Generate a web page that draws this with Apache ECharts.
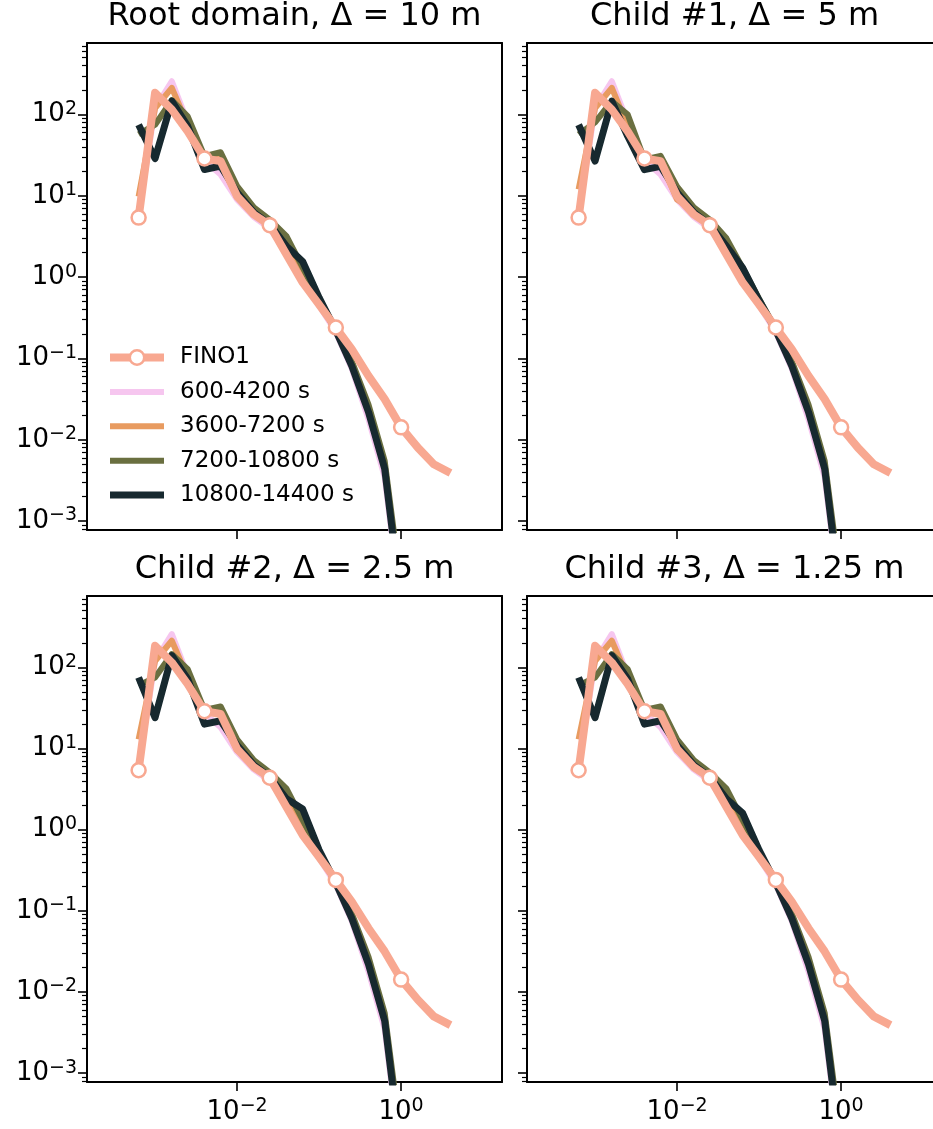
<!DOCTYPE html>
<html>
<head>
<meta charset="utf-8">
<script src="https://cdn.jsdelivr.net/npm/echarts@6.0.0/dist/echarts.min.js"></script>
</head>
<body style="margin:0;background:#fff">
<div id="container" style="width:933px;height:1129px"></div>
<script>
// frequency bins (shared by all curves)
var freq = [6.3e-4, 1.0e-3, 1.6e-3, 2.5e-3, 4.0e-3, 6.3e-3, 1.0e-2, 1.6e-2, 2.5e-2, 4.0e-2,
            6.3e-2, 0.10, 0.16, 0.25, 0.40, 0.63, 1.0, 1.6, 2.5, 4.0];

// observations, same in every panel
var fino1 = [5.4, 185, 115, 62, 28.8, 26.7, 9.9, 5.9, 4.36, 1.9,
             0.86, 0.46, 0.24, 0.13, 0.061, 0.0316, 0.0142, 0.0080, 0.0050, 0.0039];

// Root domain
var root600   = [6.0, 120, 257, 80, 27, 18.3, 9.0, 5.5, 4.0, 2.0, 0.90, 0.45, 0.21, 0.075, 0.018, 0.0035, 8e-5];
var root3600  = [9.8, 120, 213, 75, 30.8, 28, 9.5, 6.8, 4.7, 2.6, 1.2, 0.50, 0.22, 0.085, 0.024, 0.0048, 1.2e-4];
var root7200  = [57, 75, 150, 95, 30.8, 34.4, 13.2, 7.2, 5.1, 3.2, 1.32, 0.54, 0.23, 0.093, 0.027, 0.0055, 1.5e-4];
var root10800 = [75, 28.8, 146, 72, 21.1, 23.2, 11, 6.25, 4.46, 2.4, 1.56, 0.56, 0.22, 0.081, 0.0219, 0.0044, 1e-4];

// Child #1
var c1_600   = [6.0, 120, 257, 80, 27, 18.3, 9.0, 5.5, 4.0, 2.0, 0.90, 0.45, 0.21, 0.075, 0.018, 0.0035, 8e-5];
var c1_3600  = [12, 120, 213, 72, 29, 27, 9.0, 6.6, 4.6, 2.6, 1.2, 0.50, 0.22, 0.085, 0.024, 0.0048, 1.2e-4];
var c1_7200  = [57, 80, 146, 100, 28, 31, 13, 7.2, 5.1, 3.0, 1.3, 0.54, 0.23, 0.093, 0.027, 0.0055, 1.5e-4];
var c1_10800 = [75, 26.7, 146, 54, 21, 23, 11, 6.25, 4.4, 2.4, 1.3, 0.52, 0.22, 0.081, 0.0219, 0.0044, 1e-4];

// Child #2
var c2_600   = [6.0, 120, 257, 80, 27, 18.3, 9.0, 5.5, 4.0, 2.0, 0.90, 0.45, 0.21, 0.075, 0.018, 0.0035, 8e-5];
var c2_3600  = [13, 120, 213, 75, 30, 28, 9.5, 6.8, 4.7, 2.6, 1.2, 0.50, 0.22, 0.085, 0.024, 0.0048, 1.2e-4];
var c2_7200  = [60, 75, 146, 95, 30, 33, 13, 7.2, 5.1, 3.2, 1.32, 0.54, 0.23, 0.093, 0.027, 0.0055, 1.5e-4];
var c2_10800 = [75, 24, 140, 72, 20, 22, 11, 6.25, 4.46, 2.4, 1.8, 0.56, 0.22, 0.081, 0.0219, 0.0044, 1e-4];

// Child #3
var c3_600   = [6.0, 120, 257, 80, 27, 18.3, 9.0, 5.5, 4.0, 2.0, 0.90, 0.45, 0.21, 0.075, 0.018, 0.0035, 8e-5];
var c3_3600  = [13, 120, 213, 75, 30, 28, 9.5, 6.8, 4.7, 2.6, 1.2, 0.50, 0.22, 0.085, 0.024, 0.0048, 1.2e-4];
var c3_7200  = [60, 75, 146, 95, 30, 33, 13, 7.2, 5.1, 3.2, 1.32, 0.54, 0.23, 0.093, 0.027, 0.0055, 1.5e-4];
var c3_10800 = [75, 24, 140, 72, 20, 22, 11, 6.25, 4.46, 2.4, 1.6, 0.56, 0.22, 0.081, 0.0219, 0.0044, 1e-4];

var panelTitles = ['Root domain, \u0394 = 10 m', 'Child #1, \u0394 = 5 m',
                   'Child #2, \u0394 = 2.5 m', 'Child #3, \u0394 = 1.25 m'];
var panelData = [
  [root600, root3600, root7200, root10800],
  [c1_600, c1_3600, c1_7200, c1_10800],
  [c2_600, c2_3600, c2_7200, c2_10800],
  [c3_600, c3_3600, c3_7200, c3_10800]
];
var lesNames = ['600-4200 s', '3600-7200 s', '7200-10800 s', '10800-14400 s'];
var lesColors = ['#f6c6ef', '#e89b60', '#6a6f40', '#17292f'];
var lesWidths = [6, 6, 6, 7];
var finoName = 'FINO1';
var finoColor = '#f8a891';

// axes (exponents of ten)
var xMin = -3.83, xMax = 1.23;
var yMin = -3.11, yMax = 2.88;
var xMajorExp = [-2, 0];
var yMajorExp = [-3, -2, -1, 0, 1, 2];
var minorMult = [2, 3, 4, 5, 6, 7, 8, 9];

var yMinor = [];
for (var n = -4; n <= 2; n++) {
  minorMult.forEach(function (m) {
    var v = n + Math.log10(m);
    if (v >= yMin && v <= yMax) yMinor.push(v);
  });
}

var font = 'DejaVu Sans';
var W = 933;
var panelW = 415;
var gridPos = [[87, 43, 487], [527, 43, 487], [87, 596, 486], [527, 596, 486]];

function expLabel(v) {
  var n = Math.round(v);
  return '{b|10}{s|' + (n < 0 ? '\u2212' + (-n) : n) + '}';
}
var labelRich = {
  b: { fontSize: 26, fontFamily: font, color: '#000', lineHeight: 30 },
  s: { fontSize: 19, fontFamily: font, color: '#000', lineHeight: 19, verticalAlign: 'top' }
};
var spine = { show: true, onZero: false, lineStyle: { color: '#000', width: 2 } };
var noLine = { show: false, onZero: false };

function toLog(arr) {
  var out = [];
  for (var i = 0; i < arr.length; i++) {
    if (arr[i] != null) out.push([Math.log10(freq[i]), Math.log10(arr[i])]);
  }
  return out;
}

var grids = [], xAxes = [], yAxes = [], series = [], graphics = [];
gridPos.forEach(function (g, i) {
  // right-hand panels run past the page edge, so they are cut at W
  var w = Math.min(panelW, W - g[0]);
  var xMaxHere = xMin + (xMax - xMin) * w / panelW;
  grids.push({ left: g[0], top: g[1], width: w, height: g[2], show: false });
  var xi = xAxes.length, yi = yAxes.length;
  xAxes.push({
    gridIndex: i, type: 'value', min: xMin, max: xMaxHere, position: 'bottom',
    axisLine: spine, splitLine: { show: false },
    axisTick: { show: true, customValues: xMajorExp, length: 9, lineStyle: { color: '#000', width: 1.6 } },
    axisLabel: { show: i >= 2, customValues: xMajorExp, formatter: expLabel, margin: 15, rich: labelRich }
  });
  xAxes.push({
    gridIndex: i, type: 'value', min: xMin, max: xMaxHere, position: 'top',
    axisLine: spine, splitLine: { show: false }, axisTick: { show: false }, axisLabel: { show: false }
  });
  yAxes.push({
    gridIndex: i, type: 'value', min: yMin, max: yMax, position: 'left',
    axisLine: spine, splitLine: { show: false },
    axisTick: { show: true, customValues: yMajorExp, length: 9, lineStyle: { color: '#000', width: 1.6 } },
    axisLabel: { show: i % 2 === 0, customValues: yMajorExp, formatter: expLabel, margin: 10, rich: labelRich }
  });
  yAxes.push({
    gridIndex: i, type: 'value', min: yMin, max: yMax, position: 'left',
    axisLine: noLine, splitLine: { show: false },
    axisTick: { show: true, customValues: yMinor, length: 5, lineStyle: { color: '#000', width: 1.2 } },
    axisLabel: { show: false }
  });
  if (w === panelW) {
    yAxes.push({
      gridIndex: i, type: 'value', min: yMin, max: yMax, position: 'right',
      axisLine: spine, splitLine: { show: false }, axisTick: { show: false }, axisLabel: { show: false }
    });
  }

  panelData[i].forEach(function (arr, k) {
    series.push({
      name: lesNames[k], type: 'line', xAxisIndex: xi, yAxisIndex: yi,
      data: toLog(arr), symbol: 'none', showSymbol: false, color: lesColors[k],
      itemStyle: { color: lesColors[k], borderWidth: 0 },
      lineStyle: { color: lesColors[k], width: lesWidths[k], join: 'round' },
      silent: true
    });
  });
  var fd = toLog(fino1).map(function (p, j) {
    return j % 4 === 0 ? { value: p } : { value: p, symbol: 'none' };
  });
  series.push({
    name: finoName, type: 'line', xAxisIndex: xi, yAxisIndex: yi,
    data: fd, symbol: 'circle', symbolSize: 14, showSymbol: true, showAllSymbol: true,
    itemStyle: { color: '#fff', borderColor: finoColor, borderWidth: 2.5 },
    lineStyle: { color: finoColor, width: 8, join: 'round' },
    silent: true
  });

  graphics.push({
    type: 'text', x: g[0] + panelW / 2, y: g[1] - 26.5,
    style: { text: panelTitles[i], fontSize: 32, fontFamily: font, fill: '#000',
             align: 'center', textAlign: 'center', verticalAlign: 'middle', textVerticalAlign: 'middle' }
  });
});

var legendData = [{ name: finoName }];
lesNames.forEach(function (nm, k) {
  legendData.push({ name: nm, icon: 'path://M0 0H54V' + lesWidths[k] + 'H0Z' });
});

var myChart = echarts.init(document.getElementById('container'));
var option = {
  animation: false,
  backgroundColor: '#fff',
  grid: grids,
  xAxis: xAxes,
  yAxis: yAxes,
  series: series,
  graphic: graphics,
  legend: {
    data: legendData, orient: 'vertical', left: 106, top: 346, padding: 0,
    itemWidth: 54, itemHeight: 18, itemGap: 11.4,
    lineStyle: { width: 'inherit' }, itemStyle: { borderWidth: 'inherit' },
    textStyle: { fontSize: 23, fontFamily: font, color: '#000', padding: [0, 0, 0, 11] }
  }
};
myChart.setOption(option);
</script>
</body>
</html>
